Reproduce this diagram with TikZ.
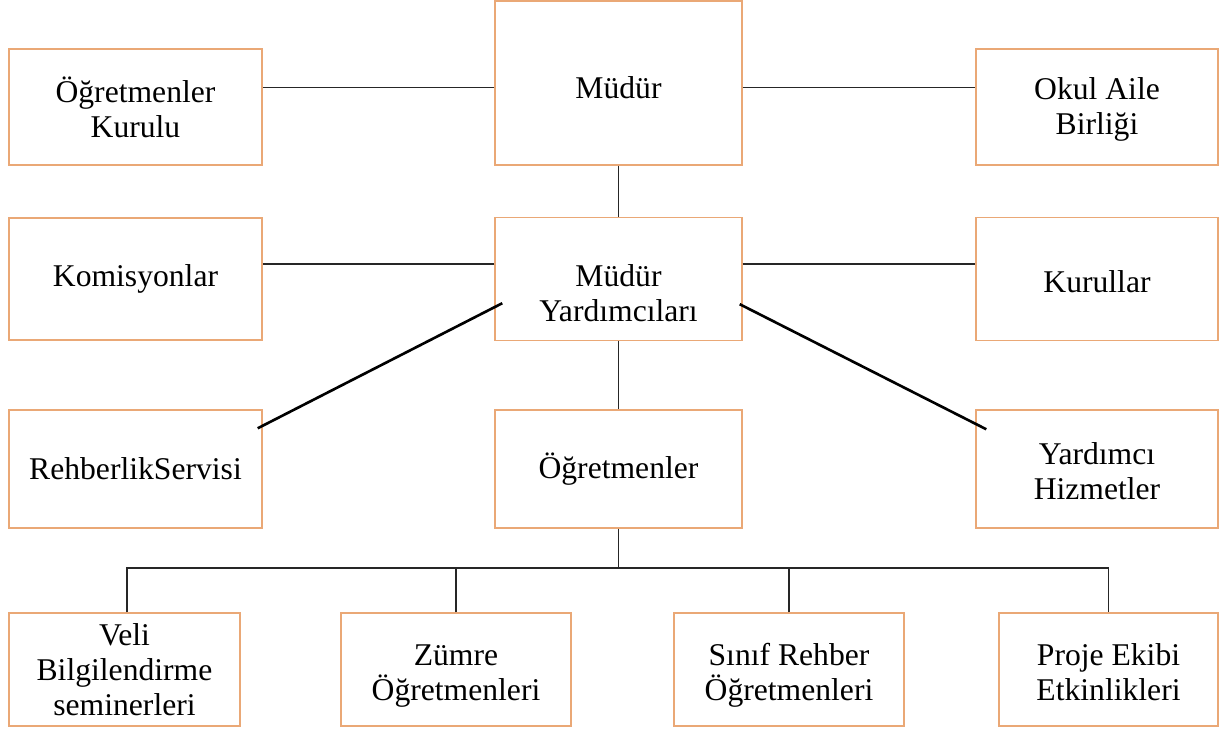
\documentclass[tikz,border=0pt]{standalone}
\usepackage{fontspec}
\setmainfont{Liberation Serif}
\definecolor{kutucizgi}{RGB}{234,168,118}
\tikzset{
    kutu/.style={draw=kutucizgi, line width=0.8pt, align=center,
        font=\fontsize{18}{20}\selectfont, inner sep=2pt},
    baglanti/.style={draw=black!85, line width=1pt},
    capraz/.style={draw=black, line width=1.5pt}
}
\begin{document}
\begin{tikzpicture}
        \useasboundingbox (0, 0) rectangle (24.46, 14.58);

        % Top row: Müdür with the two boards beside it
        \node[kutu, minimum width=4.94cm, minimum height=3.28cm] (mudur) at (12.37, 12.92) {\rule{0pt}{18pt}Müdür};
        \node[kutu, minimum width=5.06cm, minimum height=2.32cm] (ogk) at (2.71, 12.44) {Öğretmenler\\Kurulu};
        \node[kutu, minimum width=4.84cm, minimum height=2.32cm] (oab) at (21.94, 12.44) {\rule{0pt}{15pt}Okul Aile\\Birliği};

        % Second row
        \node[kutu, minimum width=4.94cm, minimum height=2.46cm] (my) at (12.37, 9.00) {\rule{0pt}{29pt}Müdür\\Yardımcıları};
        \node[kutu, minimum width=5.06cm, minimum height=2.44cm] (kom) at (2.71, 9.00) {Komisyonlar};
        \node[kutu, minimum width=4.84cm, minimum height=2.46cm] (kur) at (21.94, 9.00) {\rule{0pt}{15pt}Kurullar};

        % Third row
        \node[kutu, minimum width=4.94cm, minimum height=2.36cm] (ogr) at (12.37, 5.20) {\rule{0pt}{15pt}Öğretmenler};
        \node[kutu, minimum width=5.06cm, minimum height=2.36cm] (rs) at (2.71, 5.20) {RehberlikServisi};
        \node[kutu, minimum width=4.84cm, minimum height=2.36cm] (yh) at (21.94, 5.20) {\rule{0pt}{15pt}Yardımcı\\Hizmetler};

        % Bottom row under Öğretmenler
        \node[kutu, minimum width=4.62cm, minimum height=2.26cm] (veli) at (2.49, 1.19) {Veli\\Bilgilendirme\\seminerleri};
        \node[kutu, minimum width=4.60cm, minimum height=2.26cm] (zumre) at (9.12, 1.19) {\rule{0pt}{19pt}Zümre\\Öğretmenleri};
        \node[kutu, minimum width=4.60cm, minimum height=2.26cm] (sinif) at (15.78, 1.19) {\rule{0pt}{19pt}Sınıf Rehber\\Öğretmenleri};
        \node[kutu, minimum width=4.38cm, minimum height=2.26cm] (proje) at (22.17, 1.19) {\rule{0pt}{16pt}Proje Ekibi\\Etkinlikleri};

        % Lines from Müdür
        \draw[baglanti] ([yshift=-0.09cm]mudur.west) -- ([yshift=-0.09cm]mudur.west -| ogk.east);
        \draw[baglanti] ([yshift=-0.09cm]mudur.east) -- ([yshift=-0.09cm]mudur.east -| oab.west);
        \draw[baglanti] (mudur.south) -- (my.north);

        % Lines from Müdür Yardımcıları
        \draw[baglanti] ([yshift=0.3cm]my.west) -- ([yshift=0.3cm]my.west -| kom.east);
        \draw[baglanti] ([yshift=0.3cm]my.east) -- ([yshift=0.3cm]my.east -| kur.west);
        \draw[baglanti] (my.south) -- (ogr.north);
        \draw[capraz] ([shift={(0.16, 0.76)}]my.south west) -- ([shift={(-0.1, -0.38)}]rs.north east);
        \draw[capraz] ([shift={(-0.06, 0.74)}]my.south east) -- ([shift={(0.22, -0.40)}]yh.north west);

        % Bar under Öğretmenler
        \coordinate (bar) at ([yshift=-0.78cm]ogr.south);
        \draw[baglanti] (ogr.south) -- (bar);
        \draw[baglanti] ([xshift=0.05cm]veli.north) |- (bar) -| (proje.north);
        \foreach \n in {zumre, sinif}
        \draw[baglanti] (\n.north) -- (\n.north |- bar);
    \end{tikzpicture}
\end{document}
